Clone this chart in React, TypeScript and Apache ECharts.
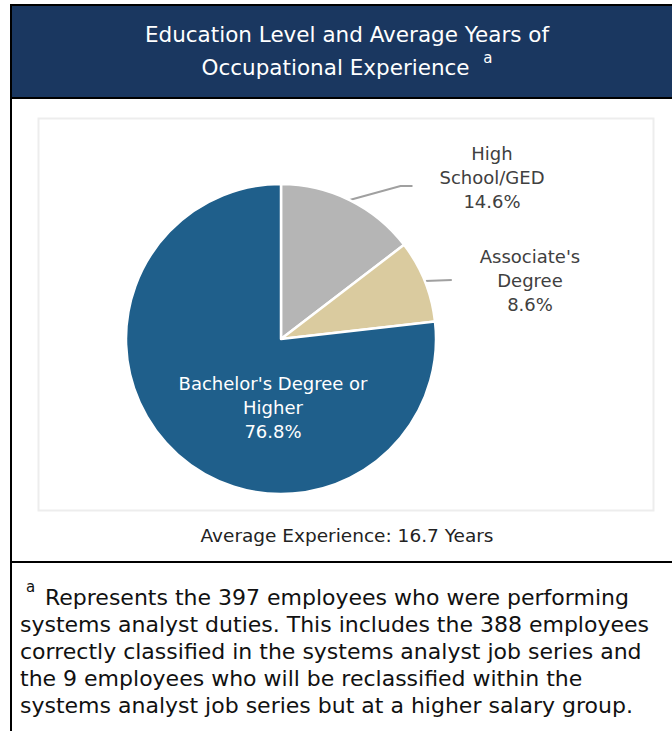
import React, { useEffect, useRef } from 'react';
import * as echarts from 'echarts';

// ---- data ----
const titleLines = ['Education Level and Average Years of', 'Occupational Experience'];
const noteMark = 'a';
const categories = ['High\nSchool/GED', "Associate's\nDegree", "Bachelor's Degree or\nHigher"];
const shares = [14.6, 8.6, 76.8];
const sliceColors = ['#b5b5b5', '#dacb9f', '#1f5f8b'];
const averageText = 'Average Experience: 16.7 Years';
const footnoteFirst = 'Represents the 397 employees who were performing';
const footnoteRest = [
  'systems analyst duties. This includes the 388 employees',
  'correctly classified in the systems analyst job series and',
  'the 9 employees who will be reclassified within the',
  'systems analyst job series but at a higher salary group.',
];

// ---- layout / style ----
const FONT = "'DejaVu Sans', 'Open Sans', sans-serif";
const CX = 281;
const CY = 339;
const R = 155;
const NAVY = '#1a3760';
const LABEL_PLACE: any[] = [
  { dx: 211, dy: -162, gap: 27, lineDy: 9, elbow: 12 },
  { dx: 249, dy: -59, gap: 28, lineDy: 0, elbow: 0 },
  { dx: -8, dy: 68 },
];

export default function App() {
  const ref = useRef<HTMLDivElement>(null);
  useEffect(() => {
    const chart = echarts.init(ref.current!, null, { renderer: 'svg' });
    const data = categories.map((name, i) => {
      const item: any = { name, value: shares[i], itemStyle: { color: sliceColors[i] } };
      if (i === 2) {
        item.label = { position: 'inside', color: '#ffffff' };
        item.labelLine = { show: false };
      }
      return item;
    });
    chart.setOption({
      animation: false,
      backgroundColor: '#ffffff',
      graphic: [
        { type: 'rect', shape: { x: 11, y: 5, width: 700, height: 800 }, style: { fill: '#ffffff', stroke: '#000000', lineWidth: 2 }, z: 0 },
        { type: 'rect', shape: { x: 12, y: 6, width: 670, height: 91 }, style: { fill: NAVY }, z: 1 },
        { type: 'line', shape: { x1: 12, y1: 98, x2: 680, y2: 98 }, style: { stroke: '#000000', lineWidth: 2 }, z: 1 },
        { type: 'rect', shape: { x: 38.5, y: 118.5, width: 615, height: 392 }, style: { fill: '#ffffff', stroke: '#ededed', lineWidth: 2 }, z: 1 },
        { type: 'line', shape: { x1: 12, y1: 562, x2: 680, y2: 562 }, style: { stroke: '#000000', lineWidth: 2 }, z: 1 },
        {
          type: 'text', z: 2,
          style: { text: titleLines[0], x: 347, y: 34, fill: '#ffffff', fontSize: 21.5, fontFamily: FONT, textAlign: 'center', textVerticalAlign: 'middle' },
        },
        {
          type: 'text', z: 2,
          style: {
            text: `{m|${titleLines[1]}  }{s|${noteMark}}`, x: 347, y: 67, fill: '#ffffff', textAlign: 'center', textVerticalAlign: 'middle',
            rich: {
              m: { fontSize: 21.5, fontFamily: FONT, color: '#ffffff', lineHeight: 34 },
              s: { fontSize: 15, fontFamily: FONT, color: '#ffffff', lineHeight: 14, verticalAlign: 'top' },
            },
          },
        },
        {
          type: 'text', z: 2,
          style: { text: averageText, x: 347, y: 535, fill: '#222222', fontSize: 18.5, fontFamily: FONT, textAlign: 'center', textVerticalAlign: 'middle' },
        },
        {
          type: 'text', z: 2,
          style: { text: noteMark, x: 26, y: 587, fill: '#111111', fontSize: 15, fontFamily: FONT, textAlign: 'left', textVerticalAlign: 'middle' },
        },
        {
          type: 'text', z: 2,
          style: { text: footnoteFirst, x: 45, y: 597, fill: '#111111', fontSize: 22, fontFamily: FONT, textAlign: 'left', textVerticalAlign: 'middle' },
        },
        {
          type: 'text', z: 2,
          style: { text: footnoteRest.join('\n'), x: 20, y: 610.5, fill: '#111111', fontSize: 22, lineHeight: 27, fontFamily: FONT, textAlign: 'left', textVerticalAlign: 'top' },
        },
      ],
      series: [
        {
          type: 'pie',
          center: [CX, CY],
          radius: R,
          startAngle: 90,
          clockwise: true,
          silent: true,
          avoidLabelOverlap: false,
          percentPrecision: 1,
          itemStyle: { borderColor: '#ffffff', borderWidth: 2.5 },
          label: {
            show: true,
            position: 'outside',
            formatter: '{b}\n{d}%',
            fontSize: 18,
            lineHeight: 24,
            fontFamily: FONT,
            color: '#404040',
          },
          labelLine: { show: true, length: 20, length2: 30, lineStyle: { color: '#a0a0a0', width: 2 } },
          labelLayout: (p: any) => {
            const cfg = LABEL_PLACE[p.dataIndex];
            const x = CX + cfg.dx;
            const y = CY + cfg.dy;
            const res: any = { x, y, align: 'center', verticalAlign: 'middle' };
            if (cfg.gap != null && p.labelLinePoints) {
              const start = p.labelLinePoints[0];
              const left = x - p.labelRect.width / 2;
              const ex = left - cfg.gap;
              const ey = y + cfg.lineDy;
              res.labelLinePoints = [start, [ex - cfg.elbow, ey], [ex, ey]];
            }
            return res;
          },
          emphasis: { disabled: true },
          data,
        },
      ],
    });
    return () => chart.dispose();
  }, []);
  return <div ref={ref} style={{ position: 'fixed', left: 0, top: 0, width: 672, height: 731, background: '#fff' }} />;
}
